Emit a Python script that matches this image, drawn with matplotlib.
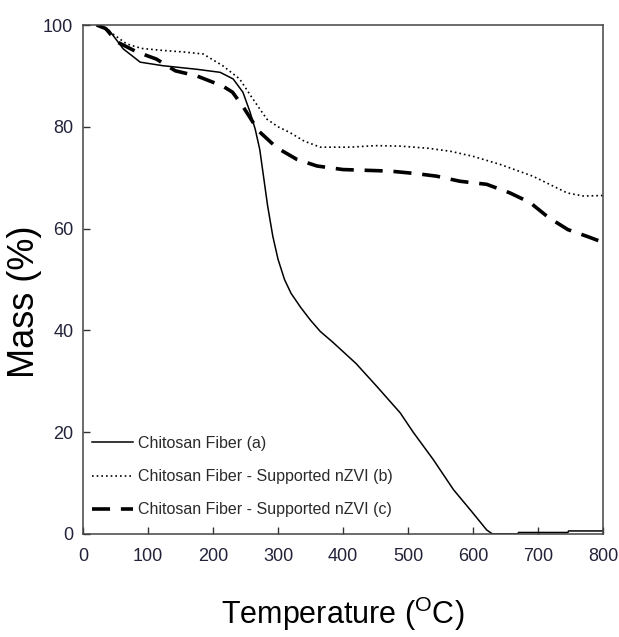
import matplotlib
matplotlib.use("Agg")
import matplotlib.pyplot as plt
from matplotlib import font_manager

names = {f.name for f in font_manager.fontManager.ttflist}
narrow = 'Liberation Sans Narrow' if 'Liberation Sans Narrow' in names else None

plt.rcParams['font.family'] = ['Liberation Sans', 'DejaVu Sans']
plt.rcParams['mathtext.fontset'] = 'custom'
plt.rcParams['mathtext.rm'] = 'Liberation Sans'
plt.rcParams['mathtext.default'] = 'regular'

# Data
temp_a = [21, 40, 62, 88, 123, 175, 211, 231, 246, 257, 265, 272, 278, 284, 292, 300,
          310, 320, 335, 350, 365, 385, 420, 452, 488, 508, 539, 570, 600, 621, 630,
          669, 670, 746, 747, 800]
mass_a = [100, 99, 95.3, 92.7, 92, 91.3, 90.7, 89.4, 86.8, 82.9, 79.5, 75.5, 70, 64.5, 58.5, 54,
          50, 47.3, 44.5, 42, 39.8, 37.6, 33.5, 29, 23.8, 20, 14.6, 8.7, 4.1, 0.8, 0,
          0, 0.3, 0.3, 0.6, 0.6]

temp_b = [21, 42, 67, 90, 123, 155, 185, 215, 241, 257, 272, 283, 300, 318, 340,
          365, 411, 450, 488, 530, 565, 600, 642, 692, 745, 770, 800]
mass_b = [100, 98.6, 96.3, 95.4, 95, 94.7, 94.3, 92, 89.4, 86.3, 83.5, 81.5, 80, 78.9, 77.2,
          76, 76, 76.3, 76.2, 75.8, 75.2, 74.2, 72.6, 70.3, 67, 66.4, 66.5]

temp_c = [21, 35, 52, 83, 113, 142, 175, 215, 230, 246, 270, 298, 329, 360, 400, 472, 513,
          544, 580, 621, 657, 688, 716, 746, 777, 800]
mass_c = [100, 99.3, 96.7, 94.7, 93.3, 91, 90, 88, 86.8, 84, 79.2, 75.9, 73.6, 72.3, 71.6,
          71.3, 70.8, 70.3, 69.3, 68.7, 67, 65.1, 62.2, 59.8, 58.4, 57.3]

labels = ['Chitosan Fiber (a)',
          'Chitosan Fiber - Supported nZVI (b)',
          'Chitosan Fiber - Supported nZVI (c)']
x_ticks = [0, 100, 200, 300, 400, 500, 600, 700, 800]
y_ticks = [0, 20, 40, 60, 80, 100]

fig = plt.figure(figsize=(6.19, 6.37), dpi=100)
ax = fig.add_axes([83/619, 1-534/637, 520/619, 509/637])

ax.plot(temp_a, mass_a, color='black', lw=1.1, label=labels[0])
ax.plot(temp_b, mass_b, color='black', lw=1.2, dashes=(1, 1.8), label=labels[1])
ax.plot(temp_c, mass_c, color='black', lw=2.6, dashes=(5, 3), label=labels[2])

ax.set_xlim(0, 800)
ax.set_ylim(0, 100)
ax.set_xticks(x_ticks)
ax.set_yticks(y_ticks)
tick_color = '#22223a'
tick_size = 15 if narrow else 13
ax.tick_params(direction='in', length=5, width=1, color='#333333',
               labelsize=tick_size, labelcolor=tick_color, top=False, right=False)
ax.tick_params(axis='x', pad=10)
ax.tick_params(axis='y', pad=7)
if narrow:
    for lab in ax.get_xticklabels() + ax.get_yticklabels():
        lab.set_family([narrow, 'DejaVu Sans'])

for s in ax.spines.values():
    s.set_color('#444444')
    s.set_linewidth(1.1)

ax.set_xlabel('Temperature ($^{O}$C)', fontsize=22, va='center', ha='center')
ax.xaxis.set_label_coords(0.5, -0.157)
ax.set_ylabel('Mass (%)', fontsize=26, va='center', ha='center')
ax.yaxis.set_label_coords(-0.113, 0.457)

leg = ax.legend(loc='upper left', bbox_to_anchor=(0.017, 0.193), frameon=False,
                fontsize=11.5, handlelength=2.6, handletextpad=0.3,
                labelspacing=1.15, borderpad=0, borderaxespad=0)
for t in leg.get_texts():
    t.set_color('#2a2a2a')

fig.savefig('out.png', dpi=100, facecolor='white')
